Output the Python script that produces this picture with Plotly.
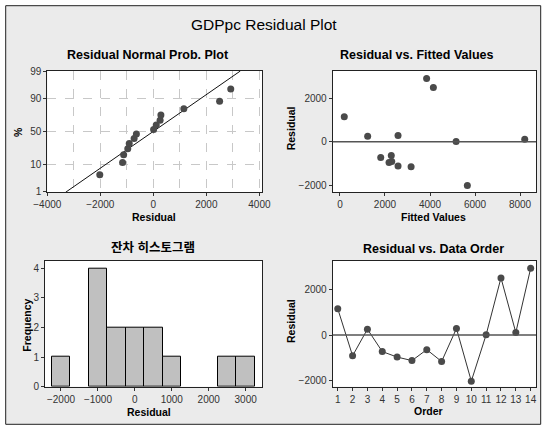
import plotly.graph_objects as go
from statistics import NormalDist, mean, stdev

# ---------------- data ----------------
order = list(range(1, 15))
residuals = [1150, -910, 255, -725, -965, -1120, -640, -1160, 285, -2020, 10, 2500, 110, 2920]
fitted = [190, 2300, 1230, 1810, 2180, 2580, 2280, 3160, 2580, 5660, 5160, 4150, 8210, 3850]
prob_ticks = [1, 10, 50, 90, 99]
hist_start, hist_end, hist_size = -2250, 3250, 500

title_main = "GDPpc Residual Plot"
titles = ["Residual Normal Prob. Plot", "Residual vs. Fitted Values", "잔차 히스토그램", "Residual vs. Data Order"]

# ---------------- derived ----------------
N = NormalDist()
n = len(residuals)
sorted_res = sorted(residuals)
z_pts = [N.inv_cdf((i - 0.3) / (n + 0.4)) for i in range(1, n + 1)]
mu, sd = mean(residuals), stdev(residuals)
zr = [-2.342, 2.353]
line_x = [mu + sd * zr[0], mu + sd * zr[1]]

W, H = 543, 426
def dx(a, b):
    return [a / W, b / W]
def dy(top, bot):
    return [1 - bot / H, 1 - top / H]

FONT = "Liberation Sans, Arial, Noto Sans CJK KR"
MK = "#4a4a4a"
tickfont = dict(family=FONT, size=10, color="#333")

fig = go.Figure()

# normal probability plot
fig.add_trace(go.Scatter(x=line_x, y=zr, mode="lines", line=dict(color="#111", width=1),
                         xaxis="x", yaxis="y", showlegend=False))
fig.add_trace(go.Scatter(x=sorted_res, y=z_pts, mode="markers", marker=dict(color=MK, size=7),
                         xaxis="x", yaxis="y", showlegend=False))
# residual vs fitted
fig.add_trace(go.Scatter(x=fitted, y=residuals, mode="markers", marker=dict(color=MK, size=7),
                         xaxis="x2", yaxis="y2", showlegend=False))
# histogram
fig.add_trace(go.Histogram(x=residuals, xbins=dict(start=hist_start, end=hist_end, size=hist_size),
                           marker=dict(color="#c0c0c0", line=dict(color="#000", width=1)),
                           xaxis="x3", yaxis="y3", showlegend=False))
# residual vs order
fig.add_trace(go.Scatter(x=order, y=residuals, mode="lines+markers", line=dict(color="#333", width=1),
                         marker=dict(color=MK, size=7), xaxis="x4", yaxis="y4", showlegend=False))

ax_common = dict(showline=True, linecolor="#222", linewidth=1, mirror=True, ticks="outside",
                 ticklen=3, tickcolor="#333", tickfont=tickfont, zeroline=False,
                 fixedrange=True, tickangle=0)

gcol = "#c8c8c8"

fig.update_layout(
    template="none",
    width=W, height=H, margin=dict(l=0, r=0, t=0, b=0),
    paper_bgcolor="#ebebeb", plot_bgcolor="white",
    font=dict(family=FONT, color="#000"),
    bargap=0,
    xaxis=dict(domain=dx(47.3, 262.3), anchor="y", range=[-4000, 4110], tickvals=[-4000, -2000, 0, 2000, 4000],
               showgrid=True, gridcolor=gcol, griddash="dash", gridwidth=1,
               minor=dict(dtick=1000, tick0=0, showgrid=True, gridcolor=gcol, griddash="dash", ticks=""),
               **ax_common),
    yaxis=dict(domain=dy(71, 192.3), anchor="x", range=zr,
               tickvals=[N.inv_cdf(p / 100) for p in prob_ticks], ticktext=[str(p) for p in prob_ticks],
               showgrid=True, gridcolor=gcol, griddash="dash", gridwidth=1, **ax_common),
    xaxis2=dict(domain=dx(332.7, 536), anchor="y2", range=[-324, 8711], tickvals=[0, 2000, 4000, 6000, 8000],
                showgrid=False, **ax_common),
    yaxis2=dict(domain=dy(71, 192), anchor="x2", range=[-2323, 3265], tickvals=[-2000, 0, 2000],
                showgrid=False, **ax_common),
    xaxis3=dict(domain=dx(45, 262.3), anchor="y3", range=[-2433, 3450], tickvals=[-2000, -1000, 0, 1000, 2000, 3000],
                showgrid=False, **ax_common),
    yaxis3=dict(domain=dy(260.7, 386.7), anchor="x3", range=[0, 4.26], tickvals=[0, 1, 2, 3, 4],
                showgrid=False, **ax_common),
    xaxis4=dict(domain=dx(332.7, 536), anchor="y4", range=[0.66, 14.36], tickvals=order,
                showgrid=False, **ax_common),
    yaxis4=dict(domain=dy(261, 386.7), anchor="x4", range=[-2263, 3240], tickvals=[-2000, 0, 2000],
                showgrid=False, **ax_common),
)

# zero reference lines
for xa, ya in [("x2", "y2"), ("x4", "y4")]:
    fig.add_shape(type="line", xref=f"{xa} domain", yref=ya, x0=0, x1=1, y0=0, y1=0,
                  line=dict(color="#555", width=1.5))

# white margin outside the outer panel, and its border
L, R, T, B = 5.7, 540.7, 5.7, 424.3
for x0, x1, y0, y1 in [(0, 1, 1 - T / H, 1), (0, 1, 0, 1 - B / H), (0, L / W, 0, 1), (R / W, 1, 0, 1)]:
    fig.add_shape(type="rect", xref="paper", yref="paper", x0=x0, x1=x1, y0=y0, y1=y1,
                  fillcolor="white", line=dict(width=0))
fig.add_shape(type="rect", xref="paper", yref="paper", x0=L / W, x1=R / W, y0=1 - B / H, y1=1 - T / H,
              line=dict(color="#222", width=1))

def ann(text, x, y, size, bold=False, angle=0):
    fig.add_annotation(text=f"<b>{text}</b>" if bold else text, x=x / W, y=1 - y / H, xref="paper", yref="paper",
                       showarrow=False, textangle=angle, xanchor="center", yanchor="middle",
                       font=dict(family=FONT, size=size, color="#000"))

ann(title_main, 263.5, 25, 15.5)
ann(titles[0], 148, 55, 12.5, True)
ann(titles[1], 416.8, 55, 12.5, True)
ann(titles[2], 153.3, 248.3, 12.5, True)
ann(titles[3], 433.7, 249, 12.5, True)
ann("Residual", 154, 216.7, 10.5, True)
ann("%", 17.3, 131.7, 10.5, True, -90)
ann("Fitted Values", 433.7, 217.3, 10.5, True)
ann("Residual", 291, 128.3, 10.5, True, -90)
ann("Residual", 149, 411.7, 10.5, True)
ann("Frequency", 26.7, 325, 10.5, True, -90)
ann("Order", 428.7, 411, 10.5, True)
ann("Residual", 291, 321, 10.5, True, -90)

fig.write_html("out.html")
